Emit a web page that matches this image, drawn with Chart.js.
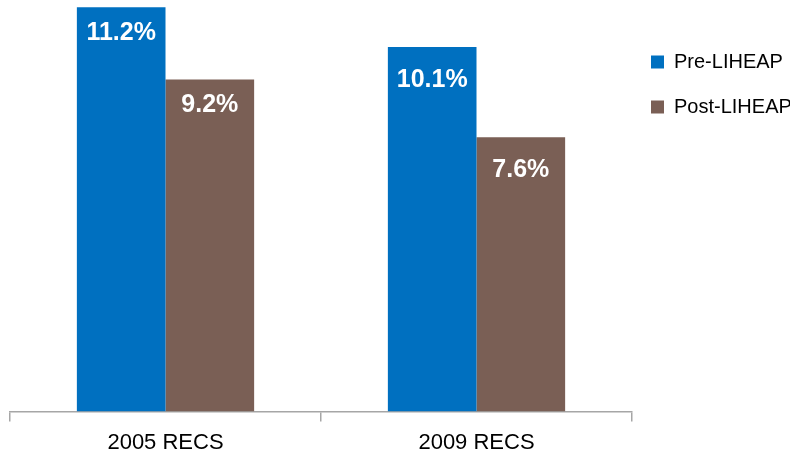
<!DOCTYPE html>
<html>
<head>
<meta charset="utf-8">
<script src="https://cdn.jsdelivr.net/npm/chart.js@4.4.1/dist/chart.umd.min.js"></script>
<style>
  html, body { margin: 0; padding: 0; background: #ffffff; }
  #wrap { width: 796px; height: 455px; position: relative; }
</style>
</head>
<body>
<div id="wrap"><canvas id="c"></canvas></div>
<script>
const categories = ['2005 RECS', '2009 RECS'];
const seriesNames = ['Pre-LIHEAP', 'Post-LIHEAP'];
const preLiheap = [11.2, 10.1];
const postLiheap = [9.2, 7.6];
const seriesColors = ['#0070C0', '#7A5F55'];
const FONT = "'Liberation Sans', Arial, sans-serif";

const valueLabels = {
  id: 'valueLabels',
  afterDatasetsDraw(chart) {
    const ctx = chart.ctx;
    const offsets = [26, 33];
    ctx.save();
    ctx.fillStyle = '#ffffff';
    ctx.font = "bold 25px " + FONT;
    ctx.textAlign = 'center';
    ctx.textBaseline = 'middle';
    chart.data.datasets.forEach((ds, di) => {
      const meta = chart.getDatasetMeta(di);
      meta.data.forEach((bar, i) => {
        ctx.fillText(ds.data[i].toFixed(1) + '%', bar.x, bar.y + offsets[i]);
      });
    });
    ctx.restore();
  }
};

const legendTweak = {
  id: 'legendTweak',
  beforeInit(chart) {
    const lg = chart.legend;
    if (lg) {
      const orig = lg.fit;
      lg.fit = function () { orig.call(this); this.width = 164; };
    }
  },
  afterLayout(chart) {
    const lg = chart.legend;
    if (lg) { lg.left -= 6; lg.right -= 6; }
  }
};

new Chart(document.getElementById('c'), {
  type: 'bar',
  data: {
    labels: categories,
    datasets: [
      { label: seriesNames[0], data: preLiheap, backgroundColor: seriesColors[0], borderWidth: 0 },
      { label: seriesNames[1], data: postLiheap, backgroundColor: seriesColors[1], borderWidth: 0 }
    ]
  },
  options: {
    responsive: true,
    maintainAspectRatio: false,
    animation: false,
    layout: { padding: { left: 10, top: 0, bottom: -9, right: 0 } },
    datasets: { bar: { categoryPercentage: 0.57, barPercentage: 1.0 } },
    scales: {
      x: {
        grid: { drawOnChartArea: false, drawTicks: true, tickLength: 10, color: '#A6A6A6', lineWidth: 1.5, offset: true },
        border: { display: true, color: '#A6A6A6', width: 1.5 },
        ticks: { color: '#000000', font: { family: FONT, size: 22 }, padding: 8 }
      },
      y: { display: false, min: 0, max: 11.4 }
    },
    plugins: {
      legend: {
        position: 'right',
        align: 'start',
        title: { display: true, text: ' ', font: { size: 10, lineHeight: 1 }, padding: { top: 17, bottom: 0 } },
        labels: {
          boxWidth: 13, boxHeight: 13, padding: 25,
          color: '#000000',
          font: { family: FONT, size: 20 }
        }
      },
      tooltip: { enabled: false }
    }
  },
  plugins: [valueLabels, legendTweak]
});
</script>
</body>
</html>
